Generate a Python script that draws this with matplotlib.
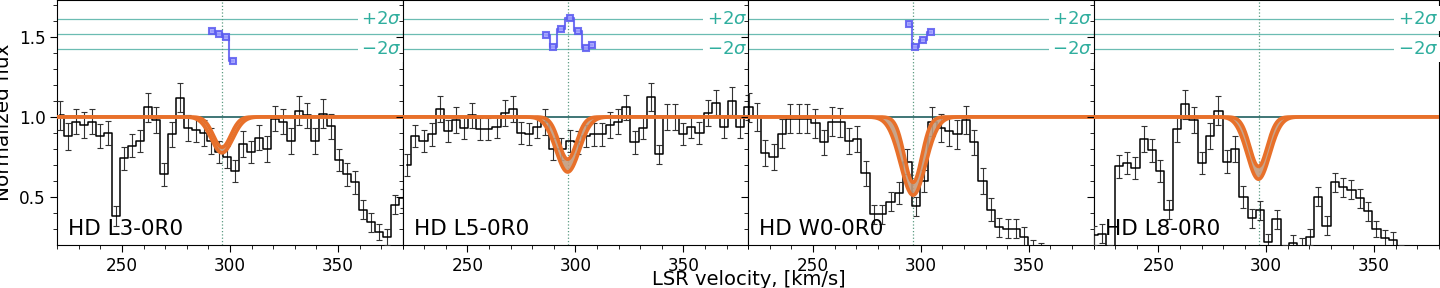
import numpy as np
import matplotlib
matplotlib.use("Agg")
import matplotlib.pyplot as plt
import matplotlib.transforms as mtransforms

# ---------------- data ----------------
labels = ["HD L3-0R0", "HD L5-0R0", "HD W0-0R0", "HD L8-0R0"]

v_start = [221.3, 222.1, 220.2, 220.1]
v_step = [3.69, 3.76, 3.87, 3.85]

flux1 = [1.01, 0.88, 0.97, 0.95, 0.97, 0.88, 0.90, 0.38, 0.74, 0.82, 0.85, 1.06,
         0.98, 0.64, 0.89, 1.12, 0.93, 0.92, 0.90, 0.85, 0.78, 0.75, 0.66, 0.83,
         0.78, 0.87, 0.80, 0.99, 0.97, 0.85, 1.04, 1.01, 0.85, 1.02, 0.94, 0.73,
         0.64, 0.59, 0.42, 0.34, 0.28, 0.25, 0.45, 0.49]
flux2 = [0.70, 0.88, 0.85, 0.89, 1.05, 0.91, 0.98, 0.93, 1.01, 0.925, 0.925, 0.935,
         1.025, 1.05, 0.90, 0.895, 0.935, 0.967, 0.80, 0.80, 0.85, 0.84, 0.88, 0.89,
         0.89, 0.95, 0.97, 1.06, 0.84, 0.93, 1.125, 0.765, 1.00, 1.00, 0.895, 0.935,
         0.90, 1.025, 1.09, 0.935, 1.10, 0.935, 1.06]
flux3 = [1.06, 1.00, 0.775, 0.75, 0.895, 0.99, 0.99, 0.99, 0.96, 0.84, 0.97, 0.967,
         0.85, 0.86, 0.646, 0.39, 0.39, 0.47, 0.525, 0.72, 0.44, 0.60, 0.97, 0.93,
         0.91, 0.89, 0.98, 0.84, 0.60, 0.42, 0.31, 0.30, 0.30, 0.25, 0.17, 0.15,
         0.12, 0.10, 0.05, 0.05, 0.08, 0.10]
flux4 = [0.26, 0.27, 0.15, 0.69, 0.71, 0.68, 0.86, 0.79, 0.66, 0.42, 0.925, 1.08,
         0.98, 0.71, 0.88, 1.04, 0.72, 0.80, 0.50, 0.365, 0.415, 0.22, 0.36, 0.15,
         0.21, 0.19, 0.25, 0.50, 0.32, 0.59, 0.56, 0.545, 0.49, 0.41, 0.30, 0.245,
         0.23, 0.15, 0.10, 0.08, 0.06, 0.05]

err1 = [0.09, 0.085, 0.08, 0.08, 0.08, 0.075, 0.075, 0.06, 0.07, 0.07, 0.07, 0.09,
        0.08, 0.07, 0.08, 0.09, 0.08, 0.08, 0.08, 0.08, 0.07, 0.07, 0.07, 0.08,
        0.07, 0.08, 0.08, 0.08, 0.08, 0.08, 0.09, 0.08, 0.08, 0.09, 0.08, 0.07,
        0.07, 0.07, 0.06, 0.06, 0.05, 0.05, 0.06, 0.06]
err2 = [0.07, 0.07, 0.07, 0.07, 0.08, 0.07, 0.08, 0.07, 0.08, 0.07, 0.07, 0.07,
        0.08, 0.08, 0.07, 0.07, 0.07, 0.08, 0.07, 0.07, 0.07, 0.07, 0.07, 0.07,
        0.07, 0.08, 0.08, 0.08, 0.07, 0.07, 0.09, 0.06, 0.08, 0.08, 0.07, 0.07,
        0.07, 0.08, 0.08, 0.07, 0.09, 0.07, 0.08]
err3 = [0.09, 0.09, 0.08, 0.08, 0.09, 0.09, 0.09, 0.09, 0.09, 0.08, 0.09, 0.09,
        0.08, 0.08, 0.08, 0.06, 0.06, 0.06, 0.07, 0.08, 0.06, 0.07, 0.09, 0.09,
        0.09, 0.09, 0.09, 0.08, 0.08, 0.07, 0.06, 0.06, 0.06, 0.06, 0.06, 0.06,
        0.06, 0.06, 0.05, 0.05, 0.05, 0.05]
err4 = [0.06, 0.06, 0.05, 0.07, 0.07, 0.07, 0.08, 0.07, 0.07, 0.06, 0.08, 0.09,
        0.08, 0.07, 0.08, 0.09, 0.07, 0.08, 0.07, 0.06, 0.06, 0.05, 0.06, 0.05,
        0.05, 0.05, 0.05, 0.06, 0.06, 0.06, 0.06, 0.06, 0.06, 0.06, 0.05, 0.05,
        0.05, 0.05, 0.05, 0.04, 0.04, 0.04]

fluxes = [flux1, flux2, flux3, flux4]
errors = [err1, err2, err3, err4]

# small residual-like markers near the top
resid_v = [[291.5, 294.8, 298.1, 301.4],
           [286.4, 289.6, 293.3, 297.3, 301.2, 305.1, 307.7],
           [294.5, 297.5, 301.0, 304.5],
           []]
resid_y = [[1.54, 1.52, 1.50, 1.35],
           [1.51, 1.44, 1.55, 1.62, 1.535, 1.43, 1.45],
           [1.58, 1.44, 1.48, 1.53],
           []]

# model absorption parameters
model_center = [296.3, 296.4, 296.4, 296.4]
depth_lo = [0.225, 0.345, 0.49, 0.39]
sigma_lo = [5.0, 5.4, 5.8, 5.2]
depth_hi = [0.19, 0.265, 0.41, 0.31]
sigma_hi = [4.0, 4.0, 4.0, 4.0]

v_line = 296.4
sig_center = 1.52
sig_offset = 0.096

# ---------------- figure ----------------
plt.rcParams['font.family'] = ['DejaVu Sans']
fig, axes = plt.subplots(1, 4, figsize=(14.4, 2.88), dpi=100, sharey=True)
fig.subplots_adjust(left=0.0398, right=0.9993, bottom=0.1503, top=0.999, wspace=0)

orange = '#e8702a'
teal_text = '#2fae9e'
teal_line = '#6bbcb2'
blue = '#5a5af0'
vm = np.linspace(220, 380, 800)

for k, ax in enumerate(axes):
    v = v_start[k] + v_step[k] * np.arange(len(fluxes[k]))
    f = np.array(fluxes[k])
    e = np.array(errors[k])

    for yy in (sig_center + sig_offset, sig_center, sig_center - sig_offset):
        ax.axhline(yy, color=teal_line, lw=0.9, zorder=1)
    trans = mtransforms.blended_transform_factory(ax.transAxes, ax.transData)
    for yy, txt in ((sig_center + sig_offset, r'$+2\sigma$'), (sig_center - sig_offset, r'$-2\sigma$')):
        ax.text(0.997, yy, txt, transform=trans, ha='right', va='center', fontsize=13,
                color=teal_text, zorder=3,
                bbox=dict(facecolor='white', edgecolor='none', pad=2.5))

    ax.axvline(v_line, color='#5a9a80', ls=':', lw=0.9, zorder=1)
    ax.axhline(1.0, color='#1f5f5f', lw=1.2, zorder=2)

    ax.errorbar(v, f, yerr=e, fmt='none', ecolor='#333333', elinewidth=0.8,
                capsize=2.2, capthick=0.8, zorder=4)
    ax.step(v, f, where='mid', color='black', lw=1.1, zorder=5)

    c = model_center[k]
    m_lo = 1 - depth_lo[k] * np.exp(-(vm - c) ** 2 / (2 * sigma_lo[k] ** 2))
    m_hi = 1 - depth_hi[k] * np.exp(-(vm - c) ** 2 / (2 * sigma_hi[k] ** 2))
    ax.fill_between(vm, m_lo, m_hi, color='#c39a7c', alpha=0.9, zorder=6, lw=0)
    ax.plot(vm, m_lo, color=orange, lw=2.6, zorder=7)
    ax.plot(vm, m_hi, color=orange, lw=2.6, zorder=7)

    if resid_v[k]:
        ax.step(resid_v[k], resid_y[k], where='mid', color=blue, lw=1.5, alpha=0.85, zorder=5)
        ax.plot(resid_v[k], resid_y[k], 's', ms=5, mfc='#a0a0ff', mec=blue, mew=1.5,
                alpha=0.85, zorder=5)

    ax.text(0.032, 0.04, labels[k], transform=ax.transAxes, fontsize=15.5,
            ha='left', va='baseline', zorder=8)

    ax.set_xlim(220, 380)
    ax.set_ylim(0.2, 1.73)
    ax.set_xticks([250, 300, 350])
    ax.set_xticks(np.arange(220, 381, 10), minor=True)
    ax.set_yticks([0.5, 1.0, 1.5])
    ax.set_yticks(np.arange(0.3, 1.75, 0.1), minor=True)
    ax.tick_params(axis='both', which='major', labelsize=12.2, length=5)
    ax.tick_params(axis='both', which='minor', length=3)

axes[0].set_ylabel('Normalized flux', fontsize=14.4, labelpad=4)
fig.text(0.52, 1 - 270 / 288, 'LSR velocity, [km/s]', ha='center', va='top', fontsize=14)

fig.savefig('out.png', dpi=100)
